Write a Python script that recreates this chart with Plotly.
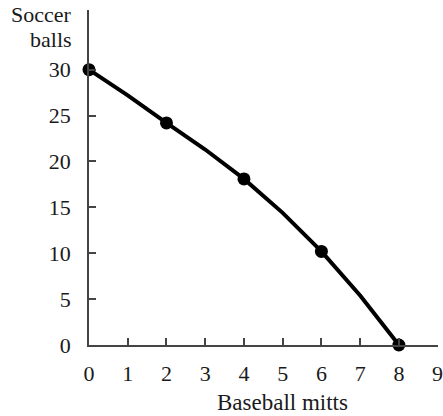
import plotly.graph_objects as go

# Data (production possibilities frontier)
mitts_line = [0, 1, 2, 3, 4, 5, 6, 7, 8]
balls_line = [30, 27.2, 24.2, 21.3, 18.1, 14.4, 10.2, 5.4, 0]
mitts_pts = [0, 2, 4, 6, 8]
balls_pts = [30, 24.2, 18.1, 10.2, 0]
x_ticks = [0, 1, 2, 3, 4, 5, 6, 7, 8, 9]
y_ticks = [0, 5, 10, 15, 20, 25, 30]

FONT = "Liberation Serif"
TXT = "#1a1a1a"
AX = "#444444"

fig = go.Figure()
fig.add_trace(go.Scatter(x=mitts_line, y=balls_line, mode="lines",
                         line=dict(color="black", width=4),
                         cliponaxis=False, hoverinfo="skip", showlegend=False))
fig.add_trace(go.Scatter(x=mitts_pts, y=balls_pts, mode="markers",
                         marker=dict(color="black", size=13),
                         cliponaxis=False, showlegend=False))

fig.update_layout(
    width=443, height=416,
    margin=dict(l=89, r=5, t=10, b=71, autoexpand=False),
    paper_bgcolor="white", plot_bgcolor="white",
    font=dict(family=FONT, size=22, color=TXT),
    xaxis=dict(range=[0, 9.01], tickvals=x_ticks, ticks="inside", ticklen=7,
               tickcolor=AX, tickwidth=1.5, showline=True, linecolor=AX,
               linewidth=1.5, showgrid=False, zeroline=False,
               ticklabeloverflow="allow", automargin=False,
               ticklabelstandoff=8, tickfont=dict(family=FONT, size=22, color=TXT)),
    yaxis=dict(range=[0, 36.5], tickvals=y_ticks, ticks="inside", ticklen=7,
               tickcolor=AX, tickwidth=1.5, showline=True, linecolor=AX,
               linewidth=1.5, showgrid=False, zeroline=False, automargin=False,
               ticklabelstandoff=12, tickfont=dict(family=FONT, size=22, color=TXT)),
    annotations=[
        dict(text="Soccer", xref="paper", yref="paper", x=-0.044, y=0.9866,
             xanchor="right", yanchor="middle", showarrow=False,
             font=dict(family=FONT, size=22, color=TXT)),
        dict(text="balls", xref="paper", yref="paper", x=-0.044, y=0.913,
             xanchor="right", yanchor="middle", showarrow=False,
             font=dict(family=FONT, size=22, color=TXT)),
        dict(text="Baseball mitts", xref="x", yref="paper", x=5, y=-0.173,
             xanchor="center", yanchor="middle", showarrow=False,
             font=dict(family=FONT, size=23, color=TXT)),
    ],
)

fig.write_html("out.html", config={"displayModeBar": False},
               post_script="document.body.style.margin='0px';document.body.style.padding='0px';")
